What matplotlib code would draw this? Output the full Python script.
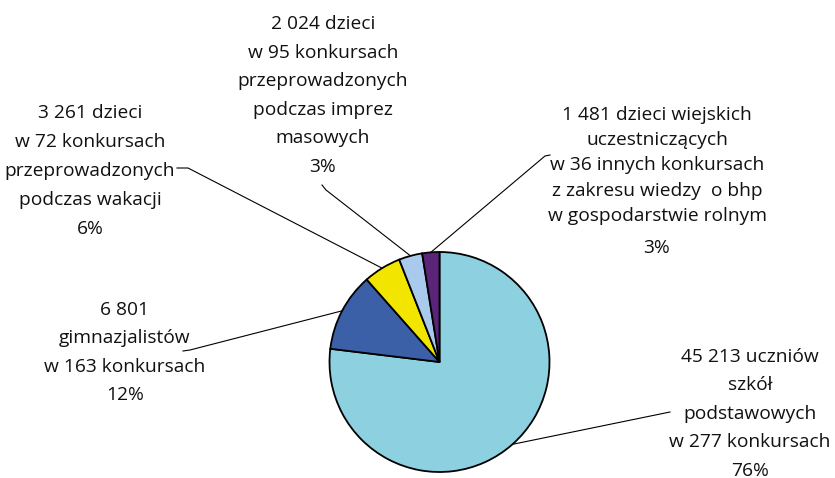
import numpy as np
import matplotlib
matplotlib.use("Agg")
import matplotlib.pyplot as plt

# DATA------------------------------------------------------------------------------------------------------------------
counts = [45213, 6801, 3261, 2024, 1481]
percents = ["76%", "12%", "6%", "3%", "3%"]
descriptions = [
    "45 213 uczniów\nszkół\npodstawowych\nw 277 konkursach",
    "6 801\ngimnazjalistów\nw 163 konkursach",
    "3 261 dzieci\nw 72 konkursach\nprzeprowadzonych\npodczas wakacji",
    "2 024 dzieci\nw 95 konkursach\nprzeprowadzonych\npodczas imprez\nmasowych",
    "1 481 dzieci wiejskich\nuczestniczących\nw 36 innych konkursach\nz zakresu wiedzy  o bhp\nw gospodarstwie rolnym",
]
colors = ["#8DD0E0", "#3C60A8", "#F2E600", "#A9CAEC", "#5A2479"]

# LAYOUT (pixel coords, y from top)-------------------------------------------------------------------------------------
center = (439.5, 362)
radius = 110
# text block centre x, top line y, line spacing, extra gap before percent
text_pos = [(750, 357, 28.4, 0), (125, 310, 28.4, 0), (90, 113, 29.0, 0),
            (323, 24, 28.6, 0), (657, 115, 25.2, 7)]
# leader line: start point near the label, optional elbow
leader = [[(670, 412)],
          [(183, 351), (190, 350)],
          [(177, 168), (188, 168)],
          [(322, 185), (326, 190)],
          [(550, 155), (545, 156)]]

plt.rcParams['font.family'] = ['Open Sans', 'DejaVu Sans']

fig = plt.figure(figsize=(8.35, 4.78), dpi=100)
ax = fig.add_axes([0, 0, 1, 1])

# y axis inverted -> visual clockwise from top means data counterclockwise from -90
wedges, _ = ax.pie(counts, colors=colors, startangle=-90, counterclock=True,
                   center=center, radius=radius, frame=True,
                   wedgeprops=dict(edgecolor='black', linewidth=1.3))
ax.set_xlim(0, 835)
ax.set_ylim(478, 0)
ax.set_aspect('equal')
ax.axis('off')

for i, w in enumerate(wedges):
    mid = np.deg2rad((w.theta1 + w.theta2) / 2)
    anchor = (center[0] + radius * np.cos(mid), center[1] + radius * np.sin(mid))
    pts = leader[i] + [anchor]
    ax.plot([p[0] for p in pts], [p[1] for p in pts], color='black', lw=0.8, zorder=0)

    cx, y0, dy, gap = text_pos[i]
    lines = descriptions[i].split("\n") + [percents[i]]
    for j, line in enumerate(lines):
        y = y0 + j * dy + (gap if j == len(lines) - 1 else 0)
        ax.text(cx, y, line, ha='center', va='center', fontsize=13.8, color='#111111')

fig.savefig("out.png", dpi=100)
